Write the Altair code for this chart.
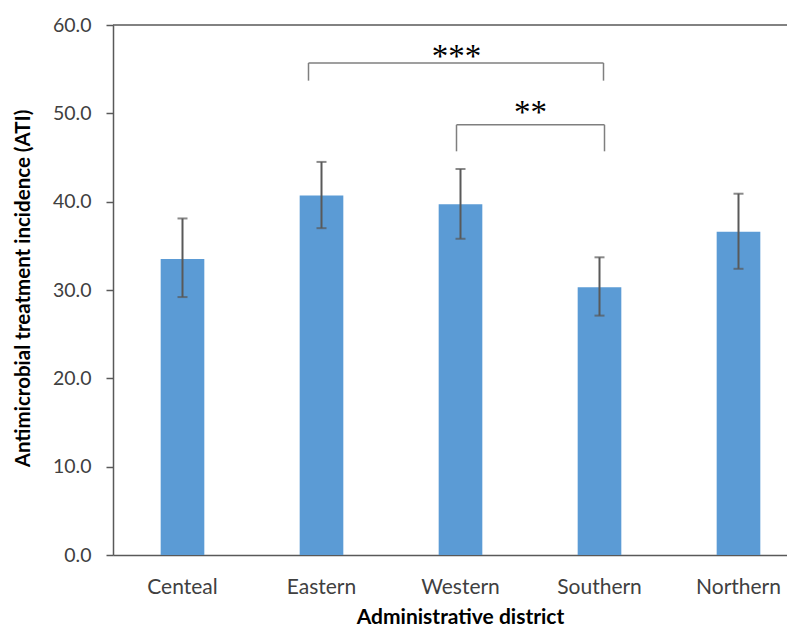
import altair as alt
import pandas as pd

# ---- data ----
districts = ["Centeal", "Eastern", "Western", "Southern", "Northern"]
ati = [33.5, 40.7, 39.7, 30.3, 36.6]
ati_upper = [38.1, 44.5, 43.7, 33.7, 40.9]
ati_lower = [29.2, 37.0, 35.8, 27.1, 32.4]

y_ticks = [0, 10, 20, 30, 40, 50, 60]

bracket_left = ["Eastern", "Western"]
bracket_right = ["Southern", "Southern"]
bracket_top = [55.7, 48.7]
bracket_bottom = [53.7, 45.7]
bracket_label = ["***", "**"]

df = pd.DataFrame({"district": districts, "ati": ati,
                   "upper": ati_upper, "lower": ati_lower})

W, H = 674, 530
LINE = "#595959"
TXT = "#404040"

x_scale = alt.Scale(domain=districts, range=[0, 695],
                    paddingInner=0.686, paddingOuter=0.343)
y_scale = alt.Scale(domain=[0, 60], nice=False, zero=True)

x_enc = alt.X("district:N", scale=x_scale, sort=districts,
              axis=alt.Axis(title="Administrative district", ticks=False,
                            domainColor=LINE, domainWidth=1.5,
                            labelFont="Lato", labelFontSize=21, labelColor=TXT,
                            labelPadding=21, labelAngle=0,
                            titleFont="Lato", titleFontSize=21,
                            titleFontWeight="bold", titleColor="#000000",
                            titleX=347, titleY=68, titleBaseline="alphabetic"))
y_enc = alt.Y("ati:Q", scale=y_scale,
              axis=alt.Axis(values=y_ticks, format=".1f", grid=False,
                            title="Antimicrobial treatment incidence (ATI)",
                            domainColor=LINE, domainWidth=1.5,
                            tickColor=LINE, tickWidth=1.5, tickSize=7,
                            labelFont="Lato", labelFontSize=19.5, labelColor=TXT,
                            labelPadding=15,
                            titleFont="Lato", titleFontSize=20.5,
                            titleFontWeight="bold", titleColor="#000000",
                            titleX=-90, titleY=263, titleBaseline="middle"))

base = alt.Chart(df)

bars = base.mark_bar(color="#5B9BD5").encode(x=x_enc, y=y_enc)

stems = base.mark_rule(color=LINE, strokeWidth=2).encode(
    x=alt.X("district:N", scale=x_scale, sort=districts, bandPosition=0.5),
    y=alt.Y("lower:Q", scale=y_scale),
    y2="upper:Q")

caps_hi = base.mark_tick(color=LINE, thickness=2, size=10, orient="horizontal").encode(
    x=alt.X("district:N", scale=x_scale, sort=districts, bandPosition=0.5),
    y=alt.Y("upper:Q", scale=y_scale))
caps_lo = base.mark_tick(color=LINE, thickness=2, size=10, orient="horizontal").encode(
    x=alt.X("district:N", scale=x_scale, sort=districts, bandPosition=0.5),
    y=alt.Y("lower:Q", scale=y_scale))

top_border = alt.Chart(pd.DataFrame({"v": [60]})).mark_rule(
    color=LINE, strokeWidth=1.5).encode(
    y=alt.Y("v:Q", scale=y_scale), x=alt.value(0), x2=alt.value(W + 40))

# significance brackets
offsets = [(-13, 4), (-4, 5)]
text_off = [(-4, 4), (70, -2)]
layers = []
for i in range(len(bracket_label)):
    bdf = pd.DataFrame({"left": [bracket_left[i]], "right": [bracket_right[i]],
                        "top": [bracket_top[i]], "bottom": [bracket_bottom[i]],
                        "label": [bracket_label[i]], "anchor": ["Western"]})
    dl, dr = offsets[i]
    bc = alt.Chart(bdf)
    horiz = bc.mark_rule(color="#7F7F7F", strokeWidth=1.5, xOffset=dl, x2Offset=dr).encode(
        x=alt.X("left:N", scale=x_scale, sort=districts, bandPosition=0.5),
        x2=alt.X2("right:N", bandPosition=0.5),
        y=alt.Y("top:Q", scale=y_scale))
    vl = bc.mark_rule(color="#7F7F7F", strokeWidth=1.5, xOffset=dl).encode(
        x=alt.X("left:N", scale=x_scale, sort=districts, bandPosition=0.5),
        y=alt.Y("bottom:Q", scale=y_scale), y2="top:Q")
    vr = bc.mark_rule(color="#7F7F7F", strokeWidth=1.5, xOffset=dr).encode(
        x=alt.X("right:N", scale=x_scale, sort=districts, bandPosition=0.5),
        y=alt.Y("bottom:Q", scale=y_scale), y2="top:Q")
    tx, ty = text_off[i]
    txt = bc.mark_text(font="Liberation Serif", fontSize=33, color="#000000",
                       baseline="alphabetic", align="center", dx=tx, dy=ty).encode(
        x=alt.X("anchor:N", scale=x_scale, sort=districts, bandPosition=0.5),
        y=alt.Y("top:Q", scale=y_scale),
        text="label:N")
    layers += [horiz, vl, vr, txt]

chart = alt.layer(bars, top_border, stems, caps_hi, caps_lo, *layers).properties(
    width=W, height=H,
    autosize=alt.AutoSizeParams(type="none"),
    padding={"left": 105, "top": 17, "right": 0, "bottom": 71},
    background="white",
).configure_view(stroke=None)

chart.save("out.html", embed_options={"renderer": "svg", "actions": False})
